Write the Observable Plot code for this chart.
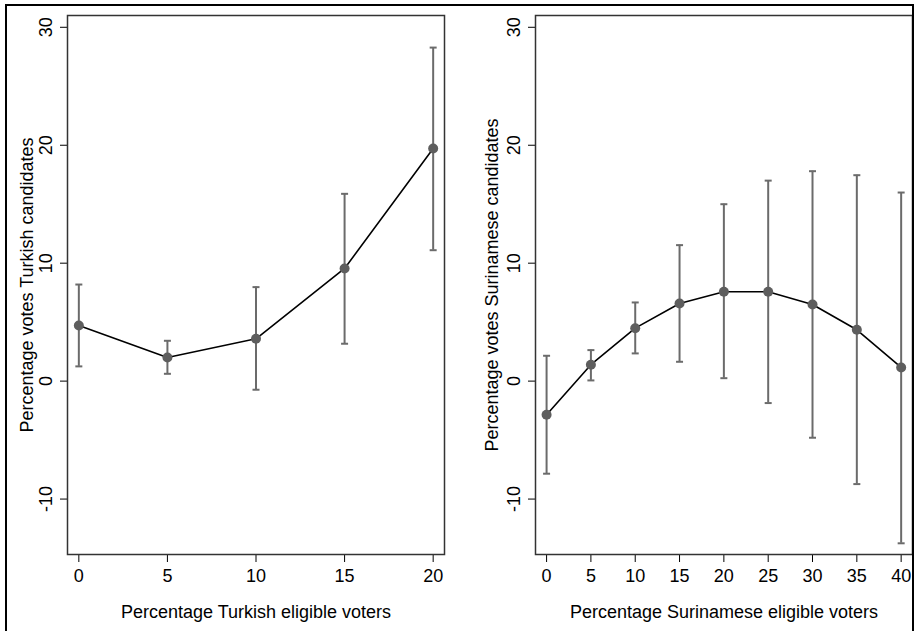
<!DOCTYPE html>
<html><head><meta charset="utf-8">
<script src="https://cdn.jsdelivr.net/npm/d3@7"></script>
<script src="https://cdn.jsdelivr.net/npm/@observablehq/plot@0.6"></script>
<style>
html,body{margin:0;padding:0;background:#fff;}
body{width:916px;height:631px;overflow:hidden;position:relative;font-family:"Liberation Sans",Arial,sans-serif;}
#left{position:absolute;left:0;top:0;}
#right{position:absolute;left:458px;top:0;}
#border{position:absolute;left:5px;top:4px;width:909px;height:700px;border:2px solid #000;border-bottom:none;box-sizing:border-box;pointer-events:none;z-index:5;}
</style>
</head><body>
<div id="left"></div><div id="right"></div><div id="border"></div>
<script>
// Turkish panel
const turkishShare = [0, 5, 10, 15, 20];
const turkishVotes = [4.72, 2.0, 3.59, 9.55, 19.72];
const turkishLow   = [1.25, 0.62, -0.73, 3.17, 11.1];
const turkishHigh  = [8.19, 3.42, 7.97, 15.88, 28.28];

// Surinamese panel
const surinameseShare = [0, 5, 10, 15, 20, 25, 30, 35, 40];
const surinameseVotes = [-2.85, 1.39, 4.49, 6.58, 7.58, 7.58, 6.5, 4.35, 1.16];
const surinameseLow   = [-7.85, 0.06, 2.35, 1.64, 0.25, -1.86, -4.8, -8.73, -13.75];
const surinameseHigh  = [2.15, 2.63, 6.67, 11.53, 15.0, 17.0, 17.8, 17.46, 15.99];

const yTicks = [-10, 0, 10, 20, 30];
const turkishTicks = [0, 5, 10, 15, 20];
const surinameseTicks = [0, 5, 10, 15, 20, 25, 30, 35, 40];

const capSymbol = {
  draw(ctx, size) {
    const w = Math.sqrt(size / Math.PI);
    ctx.moveTo(-w, 0);
    ctx.lineTo(w, 0);
  }
};

function panel(xs, ys, lo, hi, xTicks, xDomain, xTitle, yTitle, m) {
  const data = xs.map((x, i) => ({x, y: ys[i], lo: lo[i], hi: hi[i]}));
  return Plot.plot({
    width: 458, height: 631,
    marginLeft: m.left, marginRight: m.right, marginTop: 15, marginBottom: 77,
    style: {fontFamily: '"Liberation Sans", Arial, sans-serif', fontSize: "18px", color: "#000", background: "#fff"},
    x: {domain: xDomain},
    y: {domain: [-14.7, 31]},
    marks: [
      Plot.axisX({ticks: xTicks, tickSize: 8, tickPadding: 7, label: null, tickFormat: d => String(d), stroke: "#000"}),
      Plot.axisY({ticks: yTicks, tickSize: 7, tickPadding: 9, tickRotate: -90, label: null, tickFormat: d => String(d), stroke: "#000"}),
      Plot.ruleX(data, {x: "x", y1: "lo", y2: "hi", stroke: "#6b6b6b", strokeWidth: 2}),
      Plot.dot(data, {x: "x", y: "lo", symbol: capSymbol, r: 3.5, stroke: "#6b6b6b", strokeWidth: 2}),
      Plot.dot(data, {x: "x", y: "hi", symbol: capSymbol, r: 3.5, stroke: "#6b6b6b", strokeWidth: 2}),
      Plot.line(data, {x: "x", y: "y", stroke: "#000", strokeWidth: 1.6}),
      Plot.dot(data, {x: "x", y: "y", r: 5, fill: "#5e5e5e", stroke: "none"}),
      Plot.frame({stroke: "#333", strokeWidth: 1.5}),
      Plot.text([yTitle], {text: d => d, frameAnchor: "left", textAnchor: "middle", lineAnchor: "middle", rotate: -90, dx: m.ytitle, fontSize: 18, fill: "#000"}),
      Plot.text([xTitle], {text: d => d, frameAnchor: "bottom", textAnchor: "middle", lineAnchor: "middle", dy: 58, fontSize: 18, fill: "#000"})
    ]
  });
}

document.getElementById("left").append(
  panel(turkishShare, turkishVotes, turkishLow, turkishHigh, turkishTicks, [-0.64, 20.64],
    "Percentage Turkish eligible voters", "Percentage votes Turkish candidates",
    {left: 67, right: 14, ytitle: -40})
);
document.getElementById("right").append(
  panel(surinameseShare, surinameseVotes, surinameseLow, surinameseHigh, surinameseTicks, [-1.25, 41.28],
    "Percentage Surinamese eligible voters", "Percentage votes Surinamese candidates",
    {left: 77, right: 4, ytitle: -43})
);
</script>
</body></html>
